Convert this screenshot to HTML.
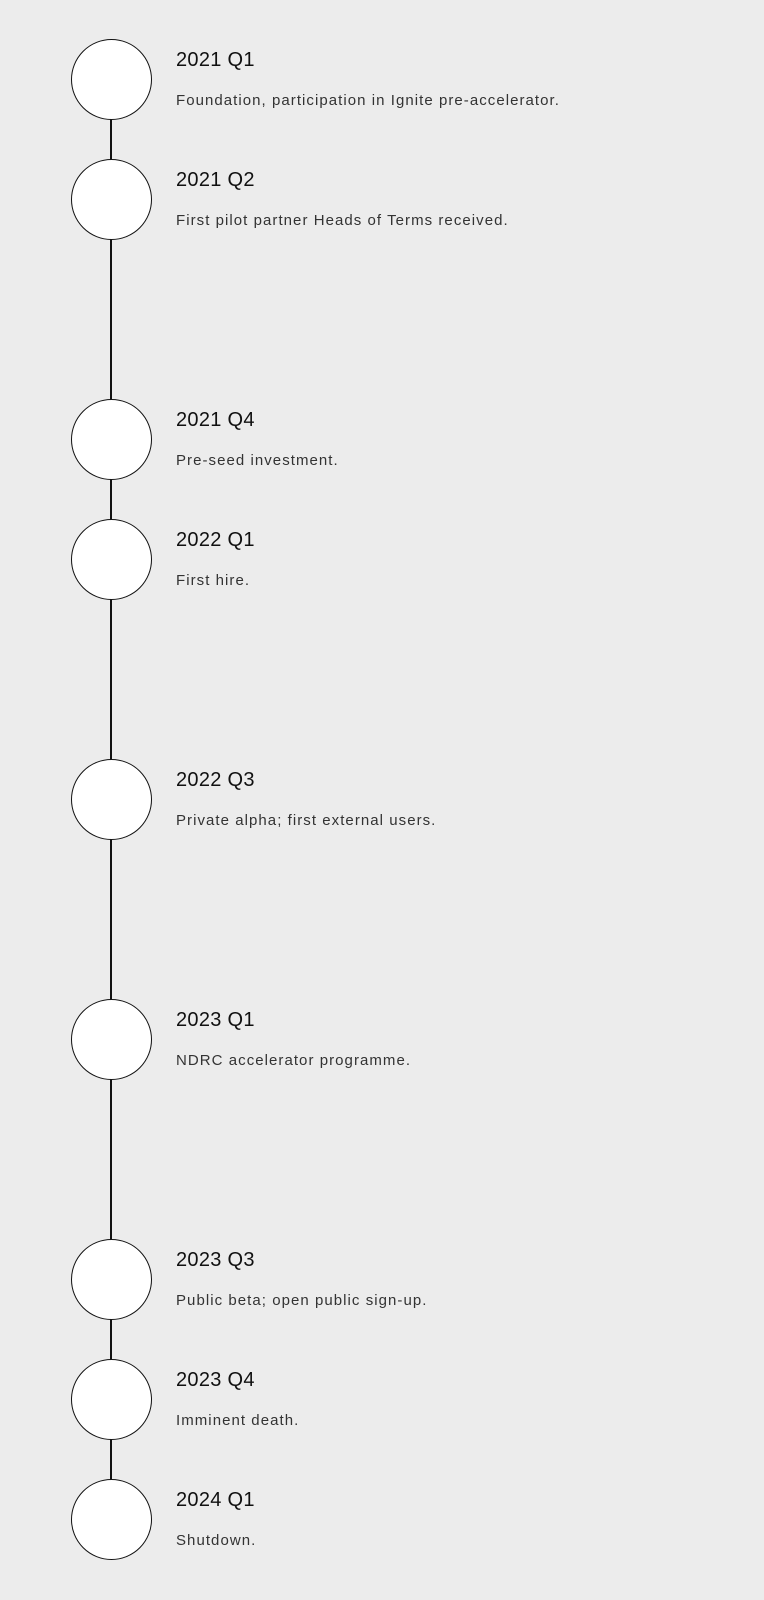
<!DOCTYPE html>
<html><head><meta charset="utf-8"><style>
html,body{margin:0;padding:0;background:#ececec;width:764px;height:1600px;overflow:hidden;font-family:"Liberation Sans",sans-serif;}
.line{position:absolute;left:110px;width:2px;background:#111;}
.c{position:absolute;left:71px;width:79px;height:79px;border:1px solid #111;border-radius:50%;background:#fff;box-sizing:content-box;}
.t{position:absolute;left:176px;font-size:20px;color:#111;letter-spacing:0.3px;line-height:20px;}
.d{position:absolute;left:176px;font-size:15px;color:#333;line-height:15px;letter-spacing:1.05px;}
</style></head><body>
<div class="line" style="top:79px;height:1440px"></div>
<div class="c" style="top:39px"></div><div class="t" style="top:50px">2021 Q1</div><div class="d" style="top:93px">Foundation, participation in Ignite pre-accelerator.</div>
<div class="c" style="top:159px"></div><div class="t" style="top:170px">2021 Q2</div><div class="d" style="top:213px">First pilot partner Heads of Terms received.</div>
<div class="c" style="top:399px"></div><div class="t" style="top:410px">2021 Q4</div><div class="d" style="top:453px">Pre-seed investment.</div>
<div class="c" style="top:519px"></div><div class="t" style="top:530px">2022 Q1</div><div class="d" style="top:573px">First hire.</div>
<div class="c" style="top:759px"></div><div class="t" style="top:770px">2022 Q3</div><div class="d" style="top:813px">Private alpha; first external users.</div>
<div class="c" style="top:999px"></div><div class="t" style="top:1010px">2023 Q1</div><div class="d" style="top:1053px">NDRC accelerator programme.</div>
<div class="c" style="top:1239px"></div><div class="t" style="top:1250px">2023 Q3</div><div class="d" style="top:1293px">Public beta; open public sign-up.</div>
<div class="c" style="top:1359px"></div><div class="t" style="top:1370px">2023 Q4</div><div class="d" style="top:1413px">Imminent death.</div>
<div class="c" style="top:1479px"></div><div class="t" style="top:1490px">2024 Q1</div><div class="d" style="top:1533px">Shutdown.</div>
</body></html>
